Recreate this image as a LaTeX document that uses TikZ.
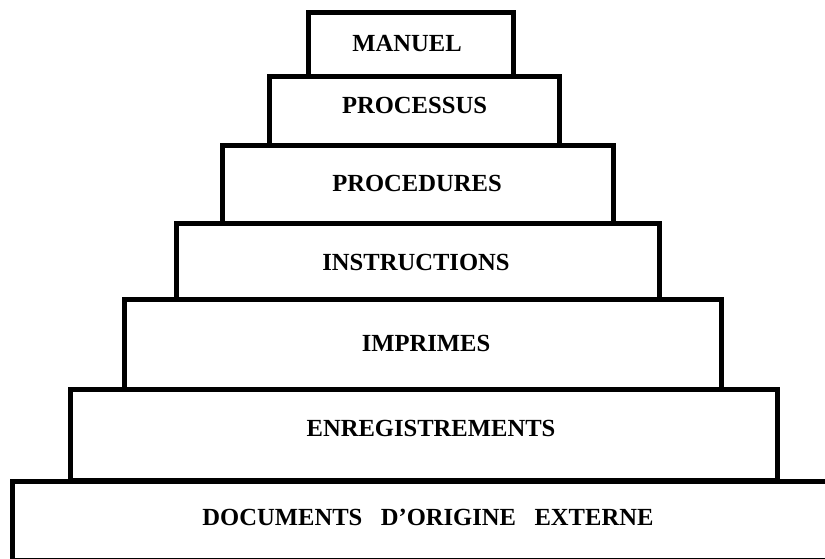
\documentclass[tikz,border=0pt]{standalone}
\usepackage{fontspec}
\setmainfont{Liberation Serif}
\begin{document}
\begin{tikzpicture}[x=1pt,y=-1pt,
  tier/.style={draw=black, line width=5pt, inner sep=0pt, outer sep=0pt},
  tiertext/.style={font=\fontsize{24.6}{28}\selectfont\bfseries, inner sep=0pt}]
\useasboundingbox (0,0) rectangle (825,559);
\clip (0,0) rectangle (825,559);

% stacked tiers, from the base upwards
\node[tier, minimum width=838pt, minimum height=79pt]     (docs)  at (431,520.5)   {};
\node[tier, minimum width=707.7pt, minimum height=91.5pt] (enreg) at (423.85,434.75) {};
\node[tier, minimum width=597.7pt, minimum height=89.5pt] (impr)  at (422.85,344.25) {};
\node[tier, minimum width=482.5pt, minimum height=76pt]   (instr) at (417.75,261)  {};
\node[tier, minimum width=390.5pt, minimum height=77pt]   (proc)  at (417.75,184.5) {};
\node[tier, minimum width=290pt, minimum height=69pt]     (procs) at (414,111.5)   {};
\node[tier, minimum width=205pt, minimum height=64.5pt]   (man)   at (411,44.75)   {};

% tier captions
\node[tiertext] (tman)   at (407,43)    {MANUEL};
\node[tiertext] (tprocs) at (414.5,105) {PROCESSUS};
\node[tiertext] (tproc)  at (417,183)   {PROCEDURES};
\node[tiertext] (tinstr) at (416,262)   {INSTRUCTIONS};
\node[tiertext] (timpr)  at (426,343)   {IMPRIMES};
\node[tiertext] (tenreg) at (431,428)   {ENREGISTREMENTS};
\node[tiertext] (tdocs)  at (428,517)   {DOCUMENTS\hspace{0.5em} D’ORIGINE\hspace{0.5em} EXTERNE};
\end{tikzpicture}
\end{document}
